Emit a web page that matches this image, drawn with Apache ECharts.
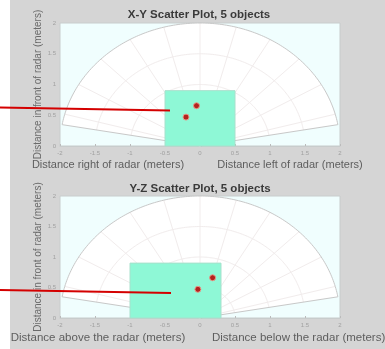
<!DOCTYPE html>
<html>
<head>
<meta charset="utf-8">
<script src="https://cdn.jsdelivr.net/npm/echarts@6/dist/echarts.min.js"></script>
<style>
  html, body { margin: 0; padding: 0; background: #ffffff; }
  #chart {
    width: 385px; height: 349px;
    background: linear-gradient(to right, #ffffff 10px, #d5d5d5 10px);
  }
</style>
</head>
<body>
<div id="chart"></div>
<script>
// Radar field of view: a fan from 10° to 170°, 2 m range
const fanAngles = [10, 170];
const fanRange = 2;
const ringRadii = [0.5, 1, 1.5];
const spokeAngles = [15, 30, 45, 60, 75, 90, 105, 120, 135, 150, 165];

// Detection boxes [xMin, xMax, yMin, yMax] in meters
const xyBox = [-0.5, 0.5, 0, 0.9];
const yzBox = [-1.0, 0.3, 0, 0.9];

// Detected points in meters
const xyPoints = [[-0.2, 0.47], [-0.05, 0.655]];
const yzPoints = [[-0.03, 0.47], [0.18, 0.66]];

const titles = ['X-Y Scatter Plot, 5 objects', 'Y-Z Scatter Plot, 5 objects'];
const yName = 'Distance in front of radar (meters)';
const xNamesTop = ['Distance right of radar (meters)', 'Distance left of radar (meters)'];
const xNamesBottom = ['Distance above the radar (meters)', 'Distance below the radar (meters)'];

const chart = echarts.init(document.getElementById('chart'), null, { renderer: 'canvas' });

function polarPoint(api, r, deg) {
  const a = deg * Math.PI / 180;
  return api.coord([r * Math.cos(a), r * Math.sin(a)]);
}

function renderFan(params, api) {
  const children = [];
  const outline = [api.coord([0, 0])];
  for (let d = fanAngles[0]; d <= fanAngles[1]; d += 1) outline.push(polarPoint(api, fanRange, d));
  children.push({
    type: 'polygon',
    shape: { points: outline },
    style: { fill: '#ffffff', stroke: 'none' }
  });
  ringRadii.forEach(r => {
    const pts = [];
    for (let d = fanAngles[0]; d <= fanAngles[1]; d += 1) pts.push(polarPoint(api, r, d));
    children.push({ type: 'polyline', shape: { points: pts }, style: { stroke: '#f1ecec', lineWidth: 1, fill: 'none' } });
  });
  spokeAngles.forEach(d => {
    const a = api.coord([0, 0]);
    const b = polarPoint(api, fanRange, d);
    children.push({
      type: 'line',
      shape: { x1: a[0], y1: a[1], x2: b[0], y2: b[1] },
      style: { stroke: '#f1ecec', lineWidth: 1 }
    });
  });
  children.push({
    type: 'polygon',
    shape: { points: outline },
    style: { fill: 'none', stroke: '#c8c8c8', lineWidth: 1 }
  });
  return { type: 'group', children: children };
}

function renderBox(params, api) {
  const p0 = api.coord([api.value(0), api.value(3)]);
  const p1 = api.coord([api.value(1), api.value(2)]);
  return {
    type: 'rect',
    shape: { x: p0[0], y: p0[1], width: p1[0] - p0[0], height: p1[1] - p0[1] },
    style: { fill: '#8ef8d6', stroke: '#a8e0cc', lineWidth: 1 }
  };
}

const grids = [
  { left: 60, top: 23, width: 280, height: 123 },
  { left: 60, top: 196, width: 280, height: 122 }
];

function xAxisFor(i) {
  return {
    type: 'value', gridIndex: i, min: -2, max: 2, interval: 0.5,
    axisLine: { show: true, lineStyle: { color: '#c8cccc' } },
    axisTick: { show: true, inside: true, length: 2, lineStyle: { color: '#bbbbbb' } },
    axisLabel: { fontSize: 6, color: '#a0a0a0', margin: 4, fontFamily: 'Liberation Sans' },
    splitLine: { show: false }
  };
}
function yAxisFor(i) {
  return {
    type: 'value', gridIndex: i, min: 0, max: 2, interval: 0.5,
    name: yName, nameLocation: 'middle', nameGap: 17, nameMoveOverlap: false,
    nameTextStyle: { fontSize: 10, color: '#6a6a6a', fontFamily: 'Liberation Sans' },
    axisLine: { show: true, lineStyle: { color: '#c8cccc' } },
    axisTick: { show: true, inside: true, length: 2, lineStyle: { color: '#bbbbbb' } },
    axisLabel: { fontSize: 6, color: '#a0a0a0', margin: 4, fontFamily: 'Liberation Sans' },
    splitLine: { show: false }
  };
}

function txt(text, x, y, size) {
  return {
    type: 'text', x: x, y: y, silent: true,
    style: {
      text: text, fontSize: size, fontFamily: 'Liberation Sans', fill: '#5e5e5e',
      textAlign: 'center', textVerticalAlign: 'middle'
    }
  };
}

const graphic = [
  txt(titles[0], 199, 15, 11.5),
  txt(titles[1], 200, 189, 11.5),
  txt(xNamesTop[0], 108, 165, 11),
  txt(xNamesTop[1], 290, 165, 11),
  txt(xNamesBottom[0], 98, 338, 11.5),
  txt(xNamesBottom[1], 212, 338, 11.5)
];
graphic[0].style.fontWeight = 'bold'; graphic[0].style.fill = '#3a3a3a';
graphic[1].style.fontWeight = 'bold'; graphic[1].style.fill = '#3a3a3a';
graphic[5].style.textAlign = 'left';
// pointer lines
graphic.push({ type: 'line', silent: true, z: 100, shape: { x1: 0, y1: 107.5, x2: 170, y2: 110.5 }, style: { stroke: '#d40000', lineWidth: 2 } });
graphic.push({ type: 'line', silent: true, z: 100, shape: { x1: 0, y1: 290, x2: 171, y2: 293 }, style: { stroke: '#d40000', lineWidth: 2 } });

function seriesFor(i, box, pts) {
  return [
    { type: 'custom', xAxisIndex: i, yAxisIndex: i, renderItem: renderFan, data: [[0, 0]], silent: true, z: 1 },
    { type: 'custom', xAxisIndex: i, yAxisIndex: i, renderItem: renderBox, data: [box], encode: { x: [0, 1], y: [2, 3] }, silent: true, z: 2 },
    {
      type: 'scatter', xAxisIndex: i, yAxisIndex: i, data: pts, symbolSize: 6, z: 3,
      itemStyle: { color: '#b3221e', borderColor: '#e89a8a', borderWidth: 1, opacity: 1 }
    }
  ];
}

chart.setOption({
  backgroundColor: 'transparent',
  animation: false,
  grid: grids.map(g => Object.assign({ show: true, backgroundColor: '#f0fefe', borderColor: '#c8cccc', borderWidth: 1 }, g)),
  xAxis: [xAxisFor(0), xAxisFor(1)],
  yAxis: [yAxisFor(0), yAxisFor(1)],
  graphic: graphic,
  series: [].concat(seriesFor(0, xyBox, xyPoints), seriesFor(1, yzBox, yzPoints))
});
</script>
</body>
</html>
